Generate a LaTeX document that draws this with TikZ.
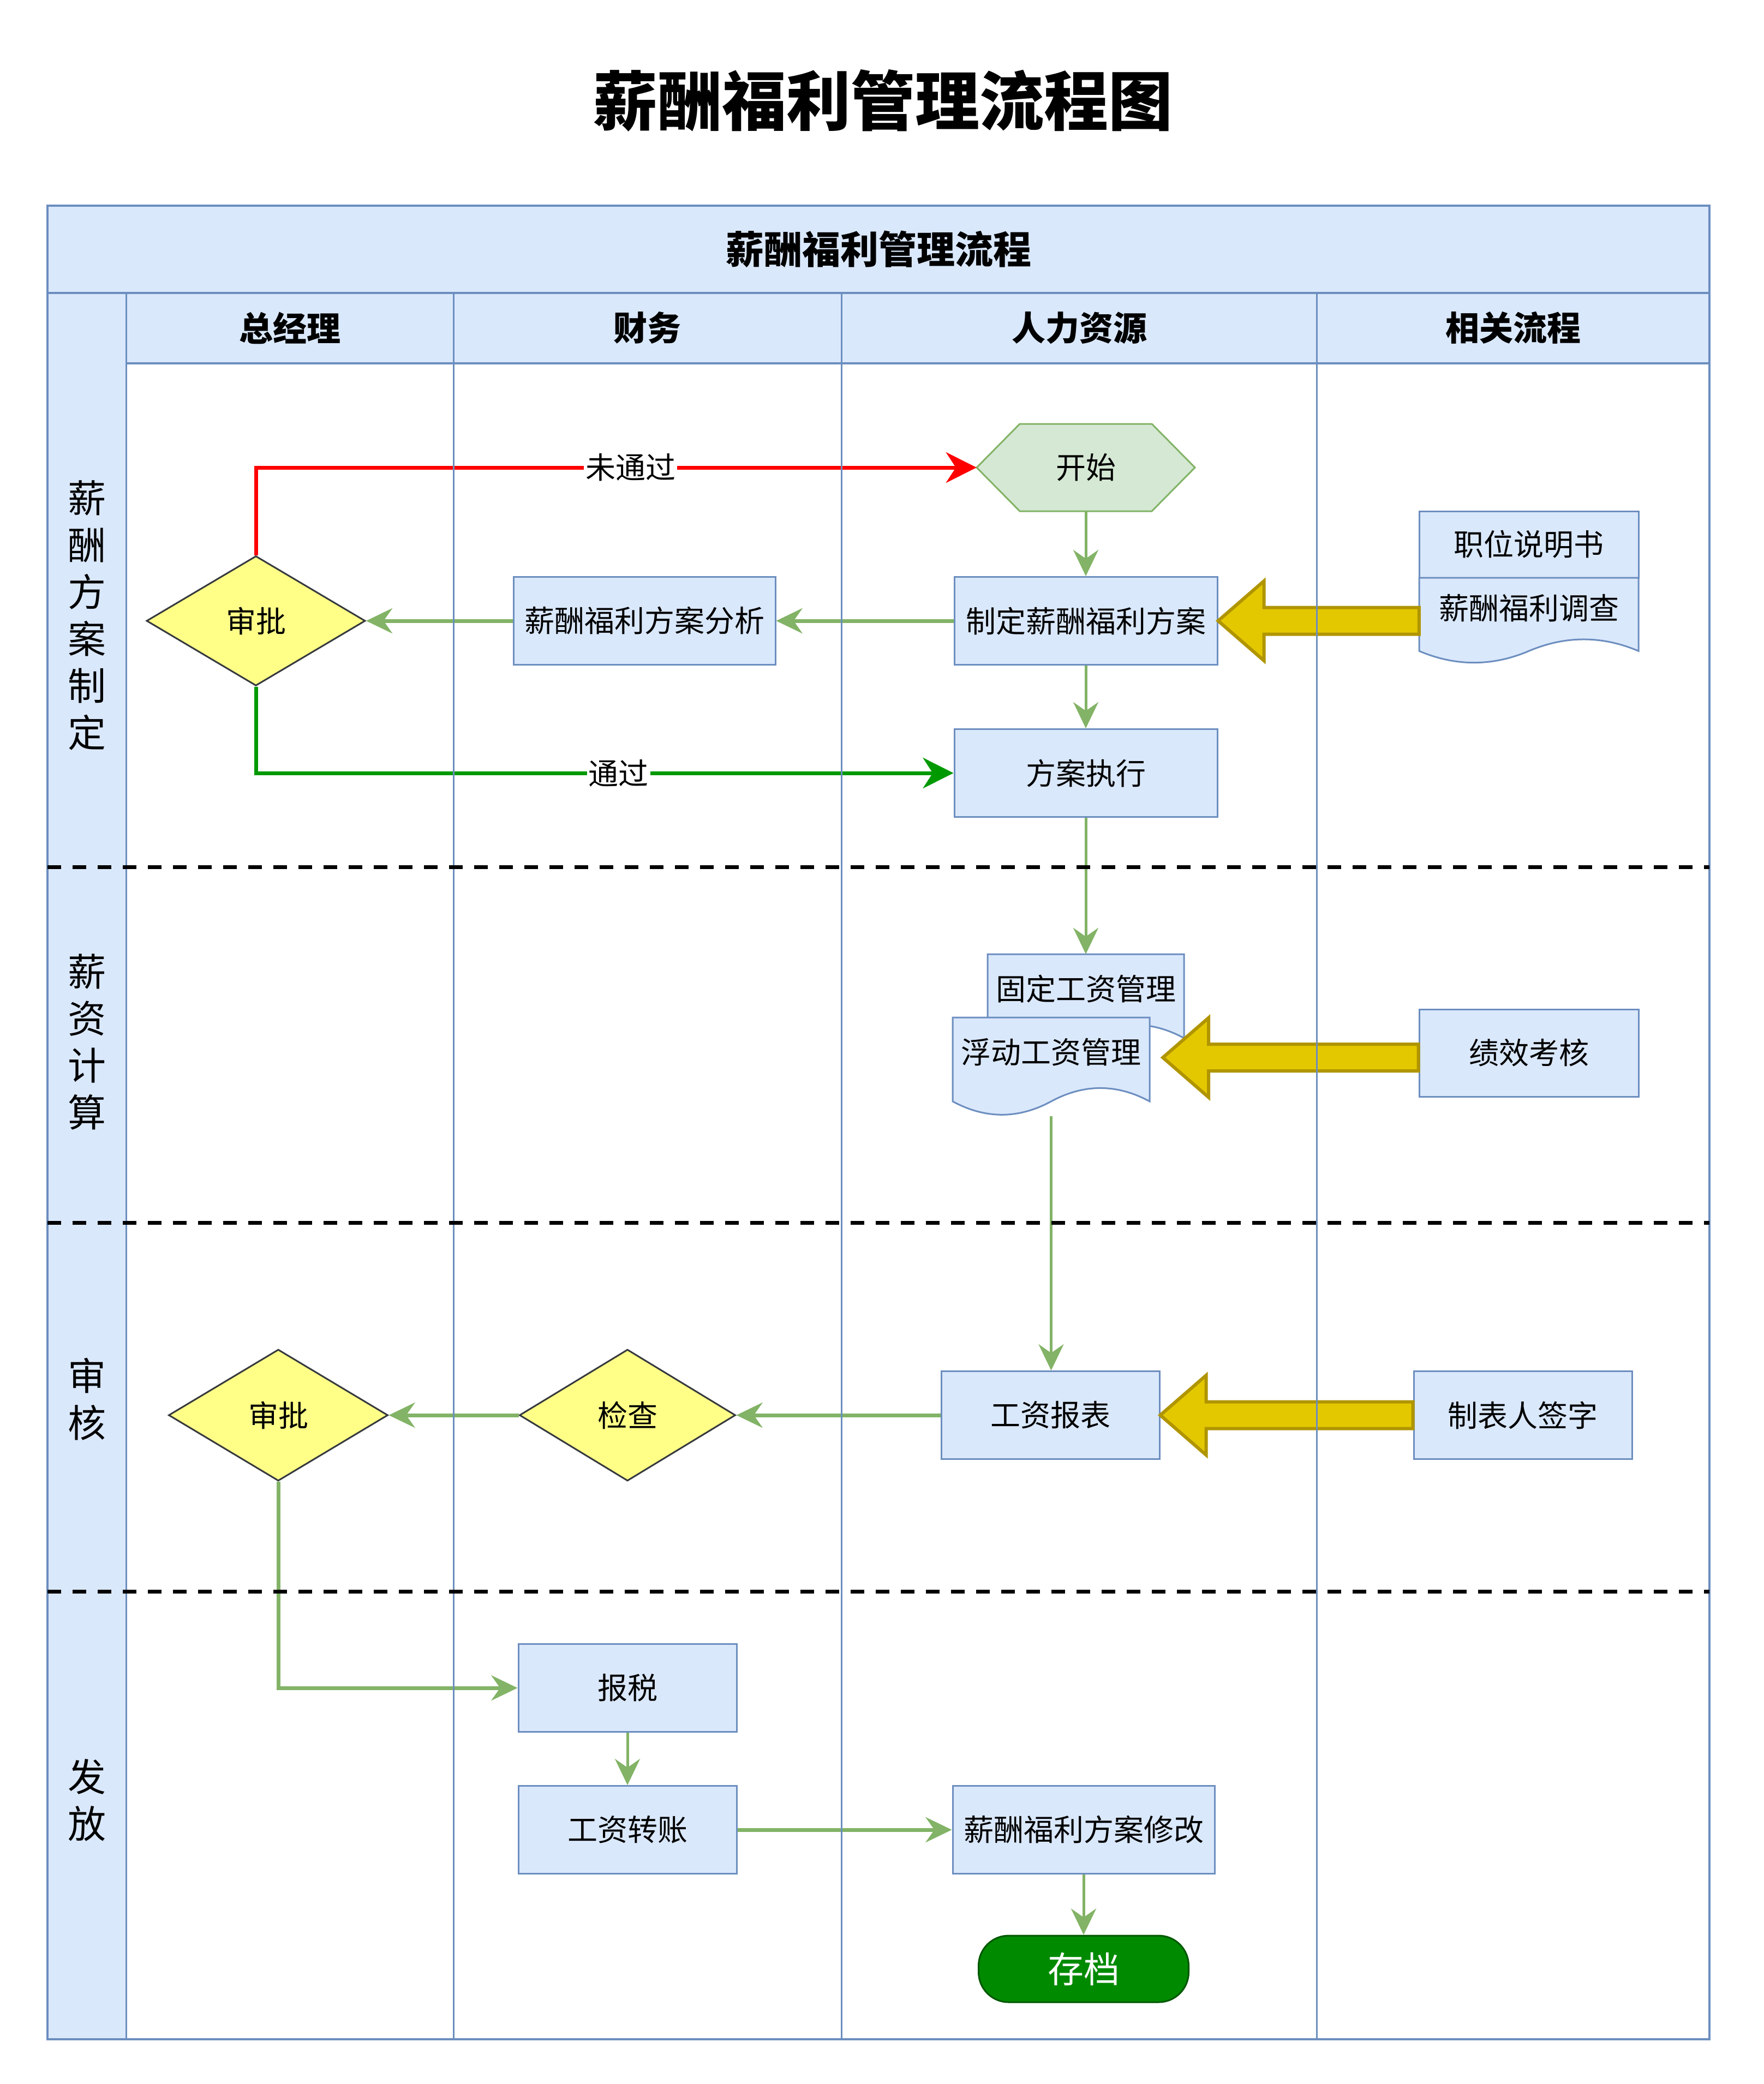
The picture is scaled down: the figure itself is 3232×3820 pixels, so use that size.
\documentclass[tikz,border=0pt]{standalone}
\usepackage{fontspec}
\setmainfont{Noto Sans CJK SC}
\usetikzlibrary{arrows.meta, shapes.geometric, calc}

\definecolor{laneblue}{HTML}{DAE8FC}
\definecolor{laneline}{HTML}{6C8EBF}
\definecolor{flowgreen}{HTML}{82B366}
\definecolor{passgreen}{HTML}{009900}
\definecolor{startfill}{HTML}{D5E8D4}
\definecolor{diafill}{HTML}{FFFF88}
\definecolor{dialine}{HTML}{36393D}
\definecolor{arrfill}{HTML}{E3C800}
\definecolor{arrline}{HTML}{B09500}
\definecolor{endfill}{HTML}{008A00}
\definecolor{endline}{HTML}{005700}

\newcommand{\nodefont}{\fontsize{55pt}{66pt}\selectfont}
\newcommand{\lanefont}{\fontsize{70pt}{86pt}\selectfont}
\newcommand{\headfont}{\fontsize{62pt}{74pt}\selectfont\bfseries}

% document with wavy bottom: name, left, top, width, height, text
\newcommand{\wavedoc}[6]{%
  \pgfmathsetmacro{\docdy}{0.3*#5}
  \filldraw[docbox] (#2,#3) -- (#2+#4,#3) -- (#2+#4,#3+#5-0.5*\docdy)
    .. controls (#2+5*#4/6,#3+#5-1.1*\docdy) and (#2+2*#4/3,#3+#5-1.1*\docdy) .. (#2+#4/2,#3+#5-0.5*\docdy)
    .. controls (#2+#4/3,#3+#5+0.1*\docdy) and (#2+#4/6,#3+#5+0.1*\docdy) .. (#2,#3+#5-0.5*\docdy) -- cycle;
  \node[inner sep=0pt, minimum width=#4pt, minimum height=#5pt] (#1) at (#2+#4/2,#3+#5/2) {};
  \node[font=\nodefont] (#1-t) at (#2+#4/2,#3+#5/2-0.5*\docdy) {#6};
}

% fat yellow arrow: tail (anchor), tip (anchor)
\newcommand{\blockarrow}[2]{%
  \draw[blockarrow] let \p1=#1, \p2=#2 in
    (\p2) -- ++(84,-73) -- ++(0,48.5) -- (\x1,\y2+24.5pt) -- (\x1,\y2-24.5pt)
    -- (\x2+84pt,\y2-24.5pt) -- (\x2+84pt,\y2-73pt) -- cycle;
}

\begin{document}
\begin{tikzpicture}[x=1pt, y=-1pt,
  >={Stealth[length=48pt, width=46pt, inset=16pt]},
  box/.style={draw=laneline, fill=laneblue, line width=3pt, inner sep=4pt, minimum width=400pt, minimum height=161pt, font=\nodefont},
  docbox/.style={draw=laneline, fill=laneblue, line width=3pt},
  decision/.style={diamond, draw=dialine, fill=diafill, line width=3pt, inner sep=0pt, font=\nodefont},
  flow/.style={->, draw=flowgreen, line width=5pt},
  bigflow/.style={flow, line width=7pt},
  failline/.style={>={Stealth[length=56pt, width=56pt, inset=18pt]}, ->, draw=red, line width=7pt},
  passline/.style={failline, draw=passgreen},
  blockarrow/.style={fill=arrfill, draw=arrline, line width=6pt, line join=miter},
  lanesep/.style={draw=laneline, line width=3pt},
  phase/.style={draw=black, line width=7pt, dash pattern=on 25pt off 21pt},
  lanelabel/.style={align=center, font=\lanefont},
  edgelabel/.style={fill=white, inner sep=3pt, font=\nodefont}]
  \useasboundingbox (0,0) rectangle (3232,3820);

  \node[font=\fontsize{118pt}{130pt}\selectfont\bfseries] (title) at (1618,184) {薪酬福利管理流程图};

  % pool and lane headers
  \fill[laneblue] (87,377) rectangle (3133,666);
  \fill[laneblue] (87,666) rectangle (231,3738);
  \node[font=\fontsize{70pt}{80pt}\selectfont\bfseries] (pool) at (1610,457) {薪酬福利管理流程};
  \node[font=\headfont] (h1) at (531,601) {总经理};
  \node[font=\headfont] (h2) at (1186,601) {财务};
  \node[font=\headfont] (h3) at (1978,601) {人力资源};
  \node[font=\headfont] (h4) at (2773,601) {相关流程};

  \node[lanelabel] (l1) at (159,1128) {薪\\酬\\方\\案\\制\\定};
  \node[lanelabel] (l2) at (159,1910) {薪\\资\\计\\算};
  \node[lanelabel] (l3) at (159,2565) {审\\核};
  \node[lanelabel] (l4) at (159,3300) {发\\放};

  % phase 1
  \filldraw[draw=flowgreen, fill=startfill, line width=3pt] (1790,857) -- (1869,777) -- (2111,777) -- (2190,857) -- (2111,937) -- (1869,937) -- cycle;
  \node[minimum width=400pt, minimum height=160pt, font=\nodefont] (start) at (1990,857) {开始};
  \node[box, minimum width=482pt] (plan) at (1990,1138) {制定薪酬福利方案};
  \node[box, minimum width=480pt] (analysis) at (1181,1138) {薪酬福利方案分析};
  \node[decision, minimum width=401pt, minimum height=238pt] (ap1) at (469,1138) {审批};
  \node[box, minimum width=482pt] (exec) at (1990,1417) {方案执行};
  \node[box, minimum width=402pt, minimum height=122pt] (job) at (2802,998) {职位说明书};
  \wavedoc{survey}{2601}{1059}{402}{158}{薪酬福利调查}

  % phase 2
  \wavedoc{fixed}{1810}{1749}{360}{181}{固定工资管理}
  \wavedoc{float}{1746}{1865}{361}{181}{浮动工资管理}
  \node[box, minimum width=402pt, minimum height=160pt] (kpi) at (2802,1930) {绩效考核};

  % phase 3
  \node[box] (report) at (1925,2594) {工资报表};
  \node[box] (sign) at (2791,2594) {制表人签字};
  \node[decision, minimum width=396pt, minimum height=241pt] (check) at (1150,2594) {检查};
  \node[decision, minimum width=402pt, minimum height=241pt] (ap2) at (510,2594) {审批};

  % phase 4
  \node[box] (tax) at (1150,3094) {报税};
  \node[box] (transfer) at (1150,3354) {工资转账};
  \node[box, minimum width=480pt] (revise) at (1986,3354) {薪酬福利方案修改};
  \node[draw=endline, fill=endfill, line width=3pt, rounded corners=55pt, minimum width=385pt, minimum height=122pt, text=white, font=\fontsize{66pt}{70pt}\selectfont] (archive) at (1986,3609) {存档};

  % connectors
  \draw[failline] (ap1.north) |- node[edgelabel, pos=0.76] (nopass) {未通过} (start.west);
  \draw[passline] (ap1.south) |- node[edgelabel, pos=0.76] (pass) {通过} (exec.west);
  \draw[flow] (start) -- (plan);
  \draw[bigflow] (plan) -- (analysis);
  \draw[bigflow] (analysis) -- (ap1);
  \draw[flow] (plan) -- (exec);
  \draw[flow] (exec.south) -- (fixed.north);
  \draw[flow] (float.south) -- (float.south |- report.north);
  \draw[bigflow] (report) -- (check);
  \draw[bigflow] (check) -- (ap2);
  \draw[bigflow] (ap2.south) |- (tax.west);
  \draw[flow] (tax) -- (transfer);
  \draw[bigflow] (transfer) -- (revise);
  \draw[flow] (revise) -- (archive);

  \blockarrow{(survey.west)}{(plan.east)}
  \blockarrow{(kpi.west)}{($(float.east)+(24,-17)$)}
  \blockarrow{(sign.west)}{(report.east)}

  % frame, lanes and phases
  \draw[lanesep, line width=4pt] (87,377) rectangle (3133,3738);
  \draw[lanesep, line width=4pt] (87,537) -- (3133,537);
  \draw[lanesep, line width=4pt] (231,666) -- (3133,666);
  \foreach \x in {231,831,1542,2413}
    \draw[lanesep] (\x,537) -- (\x,3738);
  \foreach \y in {1589,2241,2917}
    \draw[phase] (87,\y) -- (3133,\y);
\end{tikzpicture}
\end{document}
